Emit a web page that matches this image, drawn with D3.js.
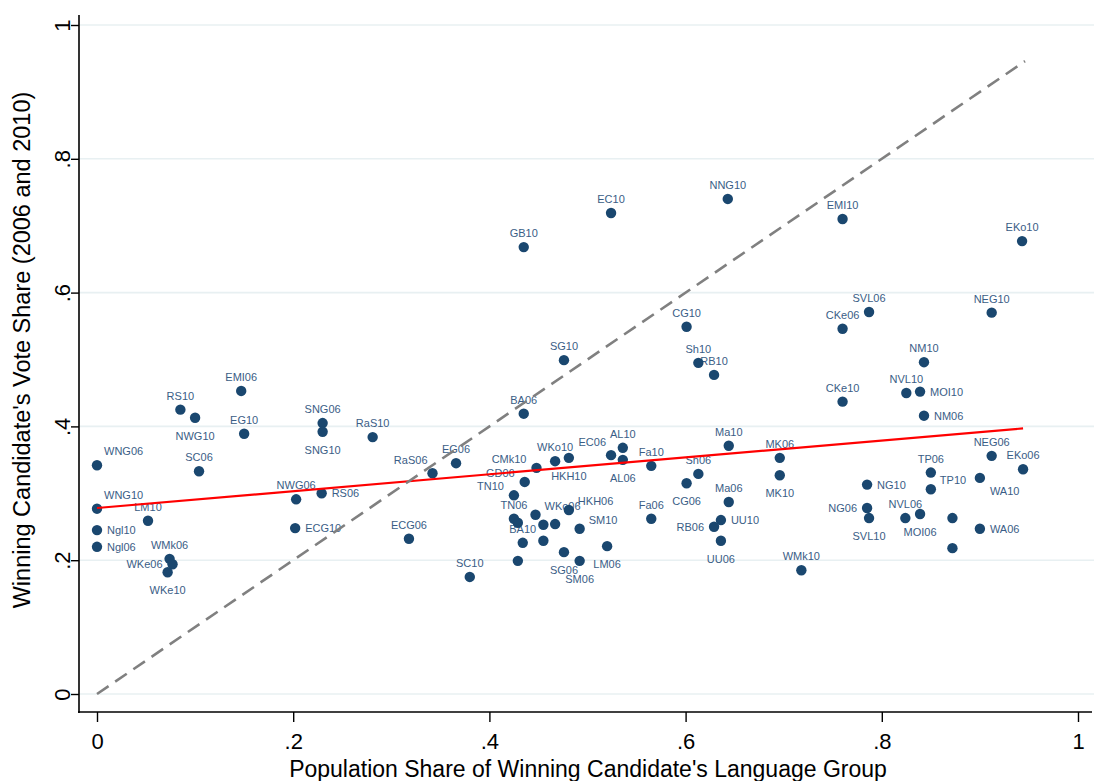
<!DOCTYPE html>
<html lang="en">
<head>
    <meta charset="utf-8">
    <title>Vote share vs language group share</title>
    <script src="https://d3js.org/d3.v7.min.js"></script>
    <style type="text/css">
        body { margin: 0; background: #fff; }
        svg text { font-family: "Liberation Sans", Arial, sans-serif; }
    </style>
</head>
<body>
<script type="text/javascript">
    //Width and height
    var w = 1094;
    var h = 781;

    //Constituency labels, population share (x), vote share (y), label clock position
    var labels = ["WNG06","WNG10","Ngl10","Ngl06","LM10","WMk06","WKe06","WKe10","SC06","NWG10",
        "RS10","EMI06","EG10","SNG06","SNG10","RaS10","NWG06","RS06","ECG10","ECG06",
        "RaS06","EG06","SC10","CMk10","WKo10","HKH10","EC06","AL10","AL06","GD06",
        "TN10","TN06","","WKo06","HKH06","","","SM10","BA10","",
        "SG06","SM06","LM06","","Fa10","Sh06","CG06","Ma10","MK06","MK10",
        "Ma06","Fa06","UU10","RB06","UU06","WMk10","NEG06","EKo06","TP06","TP10",
        "NG10","WA10","NG06","SVL10","NVL06","MOI06","","","WA06","NNG10",
        "EC10","GB10","CG10","SG10","Sh10","RB10","BA06","EMI10","EKo10","SVL06",
        "CKe06","NEG10","NM10","NVL10","MOI10","CKe10","NM06"];
    var popShare = [0.000,0.000,0.000,0.000,0.052,0.074,0.077,0.072,0.104,0.100,
        0.085,0.147,0.150,0.230,0.230,0.281,0.203,0.229,0.202,0.318,
        0.342,0.366,0.380,0.448,0.467,0.481,0.524,0.536,0.536,0.436,
        0.425,0.425,0.429,0.447,0.481,0.455,0.467,0.492,0.434,0.455,
        0.476,0.492,0.520,0.429,0.565,0.613,0.601,0.644,0.696,0.696,
        0.644,0.565,0.636,0.629,0.636,0.718,0.912,0.944,0.850,0.850,
        0.785,0.900,0.785,0.787,0.824,0.839,0.872,0.872,0.900,0.643,
        0.524,0.435,0.601,0.476,0.613,0.629,0.435,0.760,0.943,0.787,
        0.760,0.912,0.843,0.825,0.839,0.760,0.843];
    var voteShare = [0.342,0.277,0.245,0.220,0.259,0.202,0.194,0.182,0.333,0.413,
        0.425,0.453,0.389,0.405,0.392,0.384,0.291,0.300,0.248,0.232,
        0.330,0.345,0.175,0.338,0.348,0.353,0.357,0.368,0.350,0.317,
        0.297,0.262,0.256,0.268,0.275,0.253,0.254,0.247,0.226,0.229,
        0.212,0.199,0.221,0.199,0.341,0.329,0.315,0.371,0.353,0.327,
        0.287,0.262,0.260,0.250,0.229,0.185,0.356,0.336,0.331,0.306,
        0.313,0.323,0.278,0.263,0.263,0.269,0.263,0.218,0.247,0.740,
        0.719,0.668,0.549,0.499,0.495,0.477,0.419,0.710,0.677,0.571,
        0.546,0.570,0.496,0.450,0.452,0.437,0.416];
    var labelPos = [1,1,3,3,12,12,9,6,12,6,
        12,12,12,12,6,12,12,3,3,12,
        11,12,12,10,12,6,11,12,6,10,
        10,12,12,2,2,12,12,2,12,12,
        6,6,6,12,12,12,6,12,12,6,
        12,12,3,9,6,12,12,12,12,2,
        3,4,9,6,12,6,12,12,3,12,
        12,12,12,12,12,12,12,12,12,12,
        12,12,12,12,3,12,3];

    //Fitted line and 45 degree line end points
    var fitX = [0, 0.944];
    var fitY = [0.278, 0.397];
    var diagX = [0, 0.946];

    //Axis ticks and titles
    var xTicks = [0, 0.2, 0.4, 0.6, 0.8, 1];
    var yTicks = [0, 0.2, 0.4, 0.6, 0.8, 1];
    var xTitle = "Population Share of Winning Candidate's Language Group";
    var yTitle = "Winning Candidate's Vote Share (2006 and 2010)";

    var dataset = labels.map(function(d, i) {
        return { label: d, x: popShare[i], y: voteShare[i], pos: labelPos[i] };
    });

    //Scales
    var xScale = d3.scaleLinear().domain([0, 1]).range([97, 1078]);
    var yScale = d3.scaleLinear().domain([0, 1]).range([694, 25]);

    var fmt = function(d) {
        if (d === 0) return "0";
        if (d === 1) return "1";
        return String(d).replace("0.", ".");
    };

    var svg = d3.select("body")
        .append("svg")
        .attr("width", w)
        .attr("height", h);

    svg.append("rect").attr("width", w).attr("height", h).attr("fill", "#fff");

    //Grid lines
    svg.append("g")
        .selectAll("line")
        .data(yTicks)
        .enter()
        .append("line")
        .attr("x1", 79)
        .attr("x2", w)
        .attr("y1", function(d) { return yScale(d); })
        .attr("y2", function(d) { return yScale(d); })
        .attr("stroke", "#e8f0f2")
        .attr("stroke-width", 1.6);

    //Axes
    var xAxis = d3.axisBottom(xScale).tickValues(xTicks).tickFormat(fmt).tickSize(10).tickPadding(6);
    var yAxis = d3.axisLeft(yScale).tickValues(yTicks).tickFormat(fmt).tickSize(8);

    var gx = svg.append("g")
        .attr("transform", "translate(0,712)")
        .call(xAxis);
    gx.select(".domain").remove();
    gx.selectAll("line").attr("stroke", "#000").attr("stroke-width", 1.4);
    gx.selectAll("text")
        .attr("font-size", "22px")
        .attr("fill", "#000")
        .attr("y", 21);

    var gy = svg.append("g")
        .attr("transform", "translate(79,0)")
        .call(yAxis);
    gy.select(".domain").remove();
    gy.selectAll("line").attr("stroke", "#000").attr("stroke-width", 1.4);
    gy.selectAll("text")
        .attr("font-size", "22px")
        .attr("fill", "#000")
        .attr("x", 0)
        .attr("dy", 0)
        .attr("text-anchor", "middle")
        .attr("transform", "translate(-9,0) rotate(-90)");

    //Frame lines
    svg.append("line").attr("x1", 79).attr("x2", 79).attr("y1", 15).attr("y2", 713)
        .attr("stroke", "#000").attr("stroke-width", 1.6);
    svg.append("line").attr("x1", 78).attr("x2", 1092).attr("y1", 712).attr("y2", 712)
        .attr("stroke", "#000").attr("stroke-width", 1.6);

    //Axis titles
    svg.append("text")
        .attr("x", 588)
        .attr("y", 777)
        .attr("text-anchor", "middle")
        .attr("font-size", "23px")
        .attr("fill", "#000")
        .text(xTitle);
    svg.append("text")
        .attr("transform", "translate(30,350) rotate(-90)")
        .attr("text-anchor", "middle")
        .attr("font-size", "23.5px")
        .attr("fill", "#000")
        .text(yTitle);

    //Marker labels, placed by clock position
    var anchor = { 12: "middle", 6: "middle", 3: "start", 9: "end", 1: "start", 11: "end", 2: "start", 10: "end", 4: "start" };
    var dx = { 12: 0, 6: 0, 3: 10, 9: -10, 1: 7, 11: -5, 2: 9, 10: -10, 4: 10 };
    var dy = { 12: -10, 6: 22, 3: 4, 9: 4, 1: -10, 11: -9, 2: -5, 10: -5, 4: 17 };

    svg.append("g")
        .selectAll("text")
        .data(dataset)
        .enter()
        .append("text")
        .attr("x", function(d) { return xScale(d.x) + dx[d.pos]; })
        .attr("y", function(d) { return yScale(d.y) + dy[d.pos]; })
        .attr("text-anchor", function(d) { return anchor[d.pos]; })
        .attr("font-size", "11px")
        .attr("fill", "#3a5d86")
        .text(function(d) { return d.label; });

    //Markers
    svg.append("g")
        .selectAll("circle")
        .data(dataset)
        .enter()
        .append("circle")
        .attr("cx", function(d) { return xScale(d.x); })
        .attr("cy", function(d) { return yScale(d.y); })
        .attr("r", 5.2)
        .attr("fill", "#1a476f");

    //Linear fit
    svg.append("line")
        .attr("x1", xScale(fitX[0]))
        .attr("y1", yScale(fitY[0]))
        .attr("x2", xScale(fitX[1]))
        .attr("y2", yScale(fitY[1]))
        .attr("stroke", "#ff0000")
        .attr("stroke-width", 2.2);

    //45 degree line
    svg.append("line")
        .attr("x1", xScale(diagX[0]))
        .attr("y1", yScale(diagX[0]))
        .attr("x2", xScale(diagX[1]))
        .attr("y2", yScale(diagX[1]))
        .attr("stroke", "#808080")
        .attr("stroke-width", 2.6)
        .attr("stroke-dasharray", "14,8");
</script>
</body>
</html>
